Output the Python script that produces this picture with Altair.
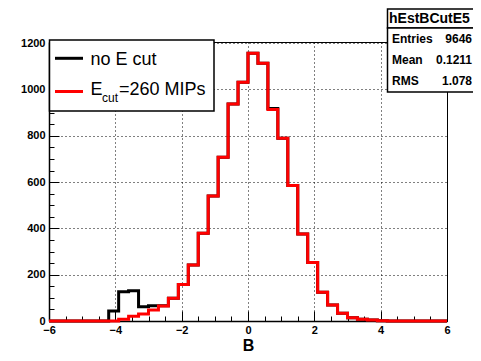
import altair as alt
import pandas as pd
import numpy as np

# Histogram binning: 40 bins from -6 to 6
x_min, x_max, n_bins = -6.0, 6.0, 40

# Counts per bin
no_cut_counts = [0, 0, 0, 0, 0, 0, 43, 126, 131, 62,
                 66, 66, 98, 158, 242, 379, 540, 707, 937, 1031,
                 1156, 1113, 918, 789, 585, 376, 253, 124, 69, 33,
                 14, 8, 4, 1, 0, 0, 0, 0, 0, 0]
ecut_counts = [0, 0, 0, 0, 0, 0, 0, 8, 21, 30,
               47, 65, 98, 158, 242, 379, 540, 707, 937, 1031,
               1156, 1113, 914, 789, 585, 376, 253, 124, 69, 33,
               14, 8, 4, 1, 0, 0, 0, 0, 0, 0]

x_major = [-6, -4, -2, 0, 2, 4, 6]
x_minor = [v / 2 for v in range(-12, 13)]
y_major = [0, 200, 400, 600, 800, 1000, 1200]
y_minor = list(range(0, 1201, 50))

legend_labels = ["no E cut", "E", "cut", "=260 MIPs"]
stats_title = "hEstBCutE5"
stats_names = ["Entries", "Mean", "RMS"]
stats_values = ["9646", "0.1211", "1.078"]

edges = np.linspace(x_min, x_max, n_bins + 1)
df_black = pd.DataFrame({"x": edges, "y": no_cut_counts + [no_cut_counts[-1]]})
df_red = pd.DataFrame({"x": edges, "y": ecut_counts + [ecut_counts[-1]]})

W, H = 398, 279
xs = alt.Scale(domain=[x_min, x_max], nice=False, zero=False)
ys = alt.Scale(domain=[0, 1205], nice=False)
FONT = "Liberation Sans"

axis_x_main = alt.Axis(values=x_major, format="d", grid=True, gridColor="black", gridDash=[1, 3],
                       gridWidth=1, ticks=False, domain=True, domainColor="black",
                       domainWidth=1.5, labelFont=FONT, labelFontWeight="bold",
                       labelFontSize=11, labelColor="black", labelPadding=3,
                       labelFlush=False, title="B", titleFont=FONT, titleFontSize=16,
                       titleFontWeight="bold", titleColor="black", titleY=29,
                       titleBaseline="alphabetic", orient="bottom")
axis_y_main = alt.Axis(values=y_major, format="d", grid=True, gridColor="black", gridDash=[1, 3],
                       gridWidth=1, ticks=False, domain=True, domainColor="black",
                       domainWidth=1.5, labelFont=FONT, labelFontWeight="bold",
                       labelFontSize=11, labelColor="black", labelPadding=4,
                       labelFlush=False, title=None, orient="left")

def tick_axis(vals, size, orient):
    return alt.Axis(values=vals, grid=False, ticks=True, tickSize=size, tickColor="black",
                    tickWidth=1, offset=-size, domain=False, labels=False, title=None,
                    orient=orient)

black_line = alt.Chart(df_black).mark_line(
    interpolate="step-after", color="black", strokeWidth=3
).encode(
    x=alt.X("x:Q", scale=xs, axis=axis_x_main),
    y=alt.Y("y:Q", scale=ys, axis=axis_y_main),
)

red_line = alt.Chart(df_red).mark_line(
    interpolate="step-after", color="#ff0000", strokeWidth=3
).encode(
    x=alt.X("x:Q", scale=xs, axis=tick_axis(x_major, 10, "bottom")),
    y=alt.Y("y:Q", scale=ys, axis=tick_axis(y_major, 10, "left")),
)

minor_layer = alt.Chart(df_red).mark_line(strokeOpacity=0).encode(
    x=alt.X("x:Q", scale=xs, axis=tick_axis(x_minor, 5, "bottom")),
    y=alt.Y("y:Q", scale=ys, axis=tick_axis(y_minor, 5, "left")),
)

one = pd.DataFrame({"a": [0]})
base = alt.Chart(one)

# Legend box
leg_box = base.mark_rect(fill="white", stroke="black", strokeWidth=1.5).encode(
    x=alt.value(0.5), x2=alt.value(165), y=alt.value(-2), y2=alt.value(69))
leg_black = base.mark_rule(color="black", strokeWidth=3).encode(
    x=alt.value(6), x2=alt.value(34), y=alt.value(16.3))
leg_red = base.mark_rule(color="#ff0000", strokeWidth=3).encode(
    x=alt.value(6), x2=alt.value(34), y=alt.value(49.5))
leg_t1 = base.mark_text(text=legend_labels[0], font=FONT, fontSize=18, align="left",
                        baseline="alphabetic", color="black").encode(
    x=alt.value(41.5), y=alt.value(22.5))
leg_t2 = base.mark_text(text=legend_labels[1], font=FONT, fontSize=18, align="left",
                        baseline="alphabetic", color="black").encode(
    x=alt.value(41.5), y=alt.value(53))
leg_t3 = base.mark_text(text=legend_labels[2], font=FONT, fontSize=12, align="left",
                        baseline="alphabetic", color="black").encode(
    x=alt.value(53), y=alt.value(59.5))
leg_t4 = base.mark_text(text=legend_labels[3], font=FONT, fontSize=18, align="left",
                        baseline="alphabetic", color="black").encode(
    x=alt.value(70), y=alt.value(53))

# Stats box
st_title_box = base.mark_rect(fill="white", stroke="black", strokeWidth=1.5).encode(
    x=alt.value(338.5), x2=alt.value(460), y=alt.value(-33), y2=alt.value(-14))
st_box = base.mark_rect(fill="white", stroke="black", strokeWidth=1.5).encode(
    x=alt.value(338.5), x2=alt.value(460), y=alt.value(-14), y2=alt.value(50))
st_title = base.mark_text(text=stats_title, font=FONT, fontSize=14, fontWeight="bold",
                          align="left", baseline="alphabetic", color="black").encode(
    x=alt.value(340), y=alt.value(-19))
stat_layers = []
for i, (nm, vl) in enumerate(zip(stats_names, stats_values)):
    yy = 1.3 + 21 * i
    stat_layers.append(base.mark_text(text=nm, font=FONT, fontSize=12, fontWeight="bold",
                                      align="left", baseline="alphabetic", color="black").encode(
        x=alt.value(343), y=alt.value(yy)))
    stat_layers.append(base.mark_text(text=vl, font=FONT, fontSize=12, fontWeight="bold",
                                      align="right", baseline="alphabetic", color="black").encode(
        x=alt.value(423), y=alt.value(yy)))

chart = alt.layer(
    black_line, red_line, minor_layer,
    leg_box, leg_black, leg_red, leg_t1, leg_t2, leg_t3, leg_t4,
    st_title_box, st_box, st_title, *stat_layers
).resolve_axis(x="independent", y="independent").properties(
    width=W, height=H,
    autosize=alt.AutoSizeParams(type="none"),
    padding={"left": 41, "top": 34, "right": 26, "bottom": 32},
    background="white",
).configure_view(stroke="black", strokeWidth=1)

chart.save("out.html", embed_options={"renderer": "svg", "actions": False})
